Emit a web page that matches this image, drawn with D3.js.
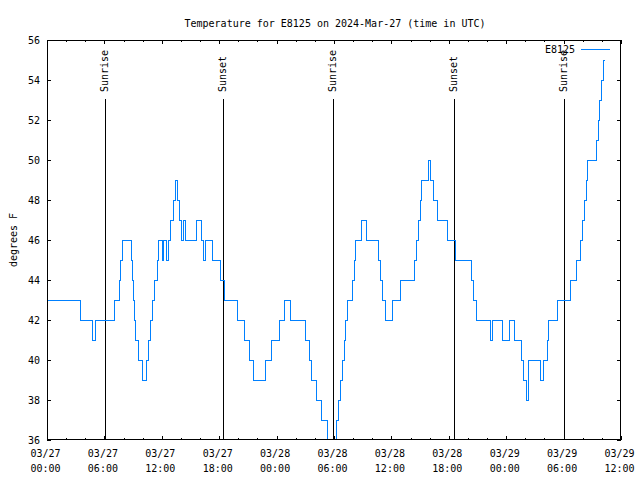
<!DOCTYPE html>
<html><head><meta charset="utf-8">
<script src="https://cdn.jsdelivr.net/npm/d3@7"></script>
<style>
body{margin:0;background:#fff}
svg{display:block;background:#fff}
text{font-family:"DejaVu Sans Mono",monospace;font-size:10px;fill:#000}
</style>
</head><body><svg id="c" width="640" height="480"></svg>
<script>
const title = "Temperature for E8125 on 2024-Mar-27 (time in UTC)";
const seriesName = "E8125";
const yLabel = "degrees F";

// hours since 03/27 00:00 UTC at which the reading changes
const hours = [0,3.5,4.75,5.05,7.05,7.55,7.7,7.9,8.8,8.92,9.02,9.15,9.3,9.55,9.95,10.35,10.6,10.85,11.05,11.25,11.5,11.7,12.1,12.2,12.5,12.7,12.95,13.2,13.4,13.6,13.8,14.05,14.3,14.45,15.65,16.1,16.35,16.55,17.3,18.1,18.6,19.95,20.65,21.15,21.55,22.8,23.5,24.3,24.8,25.45,27.0,27.4,27.65,28.15,28.7,29.35,29.5,30.05,30.25,30.45,30.7,30.85,31.05,31.2,31.4,31.95,32.15,32.25,32.85,33.35,34.65,34.85,35.1,35.35,36.1,36.95,38.4,38.6,38.8,39.0,39.15,39.85,40.1,40.4,40.8,41.9,42.65,44.4,44.6,44.85,46.4,46.6,47.6,48.35,48.85,49.6,49.85,50.1,50.35,51.6,51.85,52.3,52.45,53.35,54.7,55.4,55.8,56.0,56.2,56.4,56.55,57.45,57.65,57.8,57.95,58.2,58.35];
const temps = [43,42,41,42,43,44,45,46,45,44,43,42,41,40,39,40,41,42,43,44,45,46,45,46,45,46,47,48,49,48,47,46,47,46,47,46,45,46,45,44,43,42,41,40,39,40,41,42,43,42,41,40,39,38,37,36,35,36,37,38,39,40,41,42,43,44,45,46,47,46,45,44,43,42,43,44,45,46,47,48,49,50,49,48,47,46,45,44,43,42,41,42,41,42,41,40,39,38,40,39,40,41,42,43,44,45,46,47,48,49,50,51,52,53,54,55,55];

const tickHours = [0,6,12,18,24,30,36,42,48,54,60];
const tickDates = ["03/27","03/27","03/27","03/27","03/28","03/28","03/28","03/28","03/29","03/29","03/29"];
const tickTimes = ["00:00","06:00","12:00","18:00","00:00","06:00","12:00","18:00","00:00","06:00","12:00"];
const minorHours = d3.range(0, 61, 2);
const yTicks = [36,38,40,42,44,46,48,50,52,54,56];

const eventHours = [6.05, 18.43, 29.93, 42.57, 54.0];
const eventLabels = ["Sunrise","Sunset","Sunrise","Sunset","Sunrise"];

const L = 47, R = 621, T = 40, B = 440;
const svg = d3.select("#c");
const x = d3.scaleLinear().domain([0, 60]).range([L, R]);
const y = d3.scaleLinear().domain([36, 56]).range([B, T]);

svg.append("defs").append("clipPath").attr("id","clip")
  .append("rect").attr("x",L).attr("y",T).attr("width",R-L).attr("height",B-T);

// title
svg.append("text").attr("x", 335).attr("y", 27).attr("text-anchor","middle").text(title);

// y label
svg.append("text").attr("transform","translate(16.5,240) rotate(-90)")
  .attr("text-anchor","middle").text(yLabel);

// event lines
const ev = svg.append("g");
eventHours.forEach((h,i)=>{
  const xx = Math.round(x(h)) + 0.5;
  ev.append("line").attr("x1",xx).attr("x2",xx).attr("y1",99).attr("y2",B)
    .attr("stroke","#000").attr("stroke-width",1);
  ev.append("text").attr("transform",`translate(${xx+2.5},92) rotate(-90)`)
    .attr("text-anchor","start").text(eventLabels[i]);
});

// data
const data = hours.map((h,i)=>({h, t: temps[i]}));
const line = d3.line().curve(d3.curveStepAfter).x(d=>x(d.h)).y(d=>y(d.t));
svg.append("path").datum(data).attr("clip-path","url(#clip)")
  .attr("fill","none").attr("stroke","#0080ff").attr("stroke-width",1)
  .attr("shape-rendering","crispEdges")
  .attr("d", line);

// axes
function clean(g){ g.select(".domain").remove(); g.selectAll("line").attr("shape-rendering","crispEdges"); }
const bx = svg.append("g").attr("transform",`translate(0,${B})`)
  .call(d3.axisBottom(x).tickValues(tickHours).tickSize(-4).tickFormat((d,i)=>tickDates[i]));
bx.call(clean);
bx.selectAll(".tick text").each(function(d,i){
  const t = d3.select(this);
  t.text(null).attr("dy",null).attr("y",null);
  t.append("tspan").attr("x",-2).attr("y",17).text(tickDates[i]);
  t.append("tspan").attr("x",-2).attr("y",32).text(tickTimes[i]);
});
bx.selectAll("text").style("font-family",'"DejaVu Sans Mono",monospace').style("font-size","10px");
svg.append("g").attr("transform",`translate(0,${B})`)
  .call(d3.axisBottom(x).tickValues(minorHours).tickSize(-2).tickFormat(""))
  .call(clean);
svg.append("g").attr("transform",`translate(0,${T})`)
  .call(d3.axisTop(x).tickValues(tickHours).tickSize(-4).tickFormat(""))
  .call(clean);
svg.append("g").attr("transform",`translate(0,${T})`)
  .call(d3.axisTop(x).tickValues(minorHours).tickSize(-2).tickFormat(""))
  .call(clean);
const ly = svg.append("g").attr("transform",`translate(${L},0)`)
  .call(d3.axisLeft(y).tickValues(yTicks).tickSize(-4).tickPadding(7).tickFormat(d3.format("d")));
ly.call(clean);
ly.selectAll("text").style("font-family",'"DejaVu Sans Mono",monospace').style("font-size","10px");
svg.append("g").attr("transform",`translate(${R},0)`)
  .call(d3.axisRight(y).tickValues(yTicks).tickSize(-4).tickFormat(""))
  .call(clean);

// border
svg.append("rect").attr("x",L+0.5).attr("y",T+0.5).attr("width",R-L-1).attr("height",B-T-1)
  .attr("fill","none").attr("stroke","#000").attr("stroke-width",1).attr("shape-rendering","crispEdges");

// legend
svg.append("text").attr("x",575).attr("y",49.5).attr("dy","0.35em").attr("text-anchor","end").text(seriesName);
svg.append("line").attr("x1",581).attr("x2",610).attr("y1",49.5).attr("y2",49.5)
  .attr("stroke","#0080ff").attr("stroke-width",1).attr("shape-rendering","crispEdges");
</script>
</body></html>
